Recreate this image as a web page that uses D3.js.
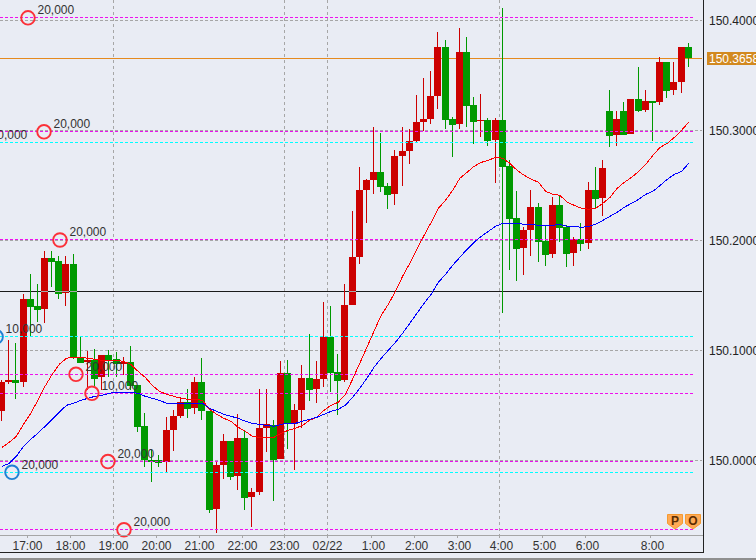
<!DOCTYPE html>
<html><head><meta charset="utf-8">
<script src="https://d3js.org/d3.v7.min.js"></script>
<style>
html,body{margin:0;padding:0;background:#e9ecf4;overflow:hidden}
svg{display:block}
text{font-family:"Liberation Sans",Arial,sans-serif;font-size:12px;fill:#333}
</style></head><body>
<svg id="c" width="756" height="560"></svg>
<script>
// all prices are given in thousandths above basePrice
const basePrice = 150;
const opens = [45.0,71.4,73.2,71.6,146.7,140.4,137.9,184.0,181.2,152.8,178.5,94.3,89.5,91.3,75.9,95.9,92.3,87.7,89.8,68.6,31.4,1.2,0.5,-0.6,27.8,40.5,53.2,47.8,71.4,45.3,-43.7,-4.0,17.8,-14.0,20.5,-33.1,-28.5,29.6,33.0,1.5,79.5,33.2,45.9,75.0,64.9,74.1,112.2,80.4,73.2,141.3,184.9,245.7,254.8,262.0,249.3,242.1,276.6,281.1,290.2,307.5,310.2,331.1,375.6,310.2,305.6,371.0,322.9,308.4,309.3,291.1,309.3,267.5,220.3,193.0,209.4,230.3,199.4,187.6,232.1,212.1,188.5,201.2,197.6,245.7,238.4,317.4,295.6,317.4,296.5,328.3,318.3,326.5,325.6,361.9,336.5,343.8,375.6];
const highs = [73.2,109.5,106.8,151.3,169.4,160.4,190.3,190.3,185.8,185.8,187.6,112.5,99.5,101.3,95.9,100.4,98.6,94.1,104.1,68.6,43.2,9.6,5.1,39.6,45.9,57.7,65.0,75.9,93.2,45.3,-1.0,24.2,17.8,42.9,27.8,-24.2,65.6,65.6,37.5,90.4,92.0,52.0,86.8,114.9,90.4,144.0,140.4,96.8,160.4,226.6,266.6,255.7,302.9,297.5,252.0,282.0,302.9,301.1,332.0,347.4,353.8,389.2,381.9,312.0,392.8,384.6,330.2,332.9,311.1,311.1,410.9,272.9,244.8,212.1,245.7,233.9,213.0,239.3,240.2,213.9,203.0,215.7,253.0,266.6,272.9,336.5,317.4,325.6,328.3,357.4,336.5,326.5,366.4,361.9,361.9,375.6,379.2];
const lows = [36.2,69.6,55.9,66.8,113.1,126.1,125.2,157.9,146.7,140.4,92.3,88.6,64.1,66.8,64.1,75.9,75.9,77.7,64.1,26.2,-5.8,-19.2,-5.5,-10.1,9.0,39.0,38.7,42.3,36.9,-47.3,-65.5,-16.1,-17.6,-26.7,-44.2,-60.0,-31.2,8.1,-36.4,1.5,10.5,-8.5,29.6,54.1,52.3,66.8,62.3,41.4,71.4,141.3,178.5,215.7,242.1,243.9,228.5,232.1,249.3,269.3,289.3,299.3,305.6,319.3,301.1,275.7,301.1,302.9,287.5,293.8,285.7,252.1,134.0,173.1,163.1,168.5,185.8,180.3,176.7,183.9,198.5,175.8,176.7,190.3,192.1,229.4,222.1,284.7,285.6,295.6,296.5,316.5,316.5,290.2,322.9,329.2,331.9,333.8,357.4];
const closes = [71.4,73.2,70.7,146.7,139.7,136.7,184.0,180.6,151.9,178.5,93.8,88.9,91.3,74.4,95.9,91.3,87.7,89.8,68.0,30.8,0.5,-0.6,-1.9,27.8,40.5,53.2,47.1,71.4,45.3,-44.9,-4.0,17.8,-14.9,20.5,-33.3,-28.5,29.6,33.2,0.5,79.5,33.2,45.9,75.0,64.1,74.1,112.2,79.5,72.3,141.3,184.9,245.7,254.8,262.0,248.4,241.2,276.6,281.1,290.2,307.5,310.2,331.1,375.6,309.3,304.7,371.0,321.9,307.5,309.3,290.2,309.3,266.6,219.4,192.1,209.4,230.3,198.5,186.7,232.1,211.2,187.6,201.2,196.7,245.7,237.5,265.7,294.7,310.2,295.6,328.3,317.4,326.5,324.7,361.9,335.6,343.8,375.6,365.8];
const redLine = [12.3,16.9,22.3,33.2,43.2,55.0,67.7,78.5,87.7,93.2,94.1,94.1,93.2,92.3,91.3,91.3,91.3,90.4,87.7,81.4,75.9,68.6,63.2,60.5,58.7,56.8,55.9,55.9,55.0,46.9,42.3,38.7,36.0,30.5,26.9,22.3,21.4,21.4,21.4,25.1,27.8,29.6,32.3,36.9,39.6,45.9,50.5,53.2,60.5,74.1,88.6,103.1,117.7,132.2,142.2,154.0,167.6,179.4,192.1,204.8,216.7,229.4,236.6,245.7,256.6,262.0,267.5,271.1,272.9,275.7,274.8,270.2,263.9,259.3,255.7,253.0,244.8,242.1,241.2,234.8,232.1,229.4,228.5,229.4,233.9,239.3,247.5,253.0,257.4,262.9,269.3,277.5,284.7,288.3,293.8,300.2,307.5];
const blueLine = [-4.9,-2.2,4.2,13.3,19.6,25.1,31.4,37.8,44.1,50.5,52.3,55.0,56.8,58.7,59.6,61.4,62.3,62.3,62.3,61.4,58.7,56.8,55.0,52.3,52.3,52.3,52.3,52.3,52.3,47.8,45.0,42.3,40.5,38.7,36.0,34.1,33.2,32.3,31.4,33.2,34.1,34.1,36.0,37.8,39.6,42.3,45.0,46.9,50.5,57.7,65.9,75.0,85.0,93.2,100.4,107.7,115.9,124.9,134.0,143.1,151.3,162.2,169.4,177.6,184.9,192.1,198.5,203.9,208.5,213.0,215.7,215.7,215.7,214.8,214.8,213.9,213.9,213.9,214.8,213.0,213.0,212.1,213.0,214.8,218.4,222.1,225.7,230.3,233.9,237.5,242.1,244.8,250.2,255.7,260.2,262.9,270.2];
const timeLabels = ["17:00","18:00","19:00","20:00","21:00","22:00","23:00","02/22","1:00","2:00","3:00","4:00","5:00","6:00","8:00"];
const timeSlots = [3.48,9.49,15.51,21.52,27.53,33.54,39.42,45.43,51.58,57.6,63.61,69.48,75.49,81.5,90.59];
const gridSlots = [15.51,39.42,45.43,69.48];
const priceTicks = [150.0,150.1,150.2,150.3,150.4];
const magentaLevels = [150.4023,150.2988,150.2006,150.0786,150.0614,149.9994,149.9374];
const cyanLevels = [150.2893,150.1127,149.9896];
const blackLevel = 150.1535;
const lastPrice = 150.3658;
const sellSlots = [3.62,5.86,8.09,10.33,12.56,14.8,17.04];
const sellPrices = [150.4023,150.2988,150.2006,150.0786,150.0614,149.9994,149.9374];
const sellAmounts = ["20,000","20,000","20,000","20,000","10,000","20,000","20,000"];
const buySlots = [-2.94,-0.84,1.38];
const buyPrices = [150.2893,150.1127,149.9896];
const buyAmounts = ["20,000","10,000","20,000"];
const badges = ["P","O"];

const svg = d3.select("#c");
const W = 756, H = 560, R = 703, B = 535;
const x = d3.scaleLinear().domain([0,96]).range([2.1,688.7]);
const y = d3.scaleLinear().domain([150,150.4]).range([460.9,20.4]);
const p = v => basePrice + v/1000;
const row = v => Math.floor(y(v)) + 0.5;
const col = s => Math.floor(x(s)) + 0.5;

svg.append("rect").attr("width",W).attr("height",H).attr("fill","#e9ecf4");

function hline(level, color, x2, dash){
  const l = svg.append("line").attr("x1",0).attr("x2",x2).attr("y1",row(level)).attr("y2",row(level))
    .attr("stroke",color).attr("stroke-width",1).attr("shape-rendering","crispEdges");
  if (dash) l.attr("stroke-dasharray",dash);
}
// vertical + horizontal grid
gridSlots.forEach(s=>{
  svg.append("line").attr("x1",col(s)).attr("x2",col(s)).attr("y1",0).attr("y2",B)
    .attr("stroke","#a6a6a6").attr("stroke-dasharray","3 3").attr("shape-rendering","crispEdges");
});
priceTicks.forEach(t=>hline(t,"#a6a6a6",R-1,"3 2"));
hline(blackLevel,"#1a1a1a",R-1);
hline(lastPrice,"#e58a1f",R-1);

// candles
const candles = svg.append("g");
opens.forEach((o,i)=>{
  const c = closes[i], up = c>=o, color = up?"#cc0000":"#009900";
  const left = Math.floor(x(i)-3.5);
  const top = Math.round(y(p(Math.max(o,c)))), bot = Math.round(y(p(Math.min(o,c))));
  const hi = Math.round(y(p(highs[i]))), lo = Math.round(y(p(lows[i])));
  candles.append("rect").attr("x",left+3).attr("width",1).attr("y",hi).attr("height",Math.max(1,lo-hi))
    .attr("fill",color).attr("shape-rendering","crispEdges");
  candles.append("rect").attr("x",left).attr("width",7).attr("y",top).attr("height",Math.max(1,bot-top))
    .attr("fill",color).attr("shape-rendering","crispEdges");
  // the black level shows through a body as a pale stripe
  const b = row(blackLevel);
  if (top < b && bot > b) {
    candles.append("rect").attr("x",left).attr("width",7).attr("y",b-.5).attr("height",1)
      .attr("fill","#a9a9a9").attr("shape-rendering","crispEdges");
  }
});

// order levels above the candles
magentaLevels.forEach(l=>hline(l,"#ee10ee",693,"3 2"));
cyanLevels.forEach(l=>hline(l,"#00ffff",693,"3 2"));

// moving averages
const line = d3.line().x((d,i)=>x(i)).y(d=>y(p(d)));
svg.append("path").attr("d",line(redLine)).attr("fill","none").attr("stroke","#ff0000").attr("stroke-width",1).attr("shape-rendering","crispEdges");
svg.append("path").attr("d",line(blueLine)).attr("fill","none").attr("stroke","#0000ff").attr("stroke-width",1).attr("shape-rendering","crispEdges");

// order markers
function marks(slots,prices,amounts,color){
  slots.forEach((s,i)=>{
    const cx=x(s), cy=y(prices[i]);
    svg.append("circle").attr("cx",cx).attr("cy",cy).attr("r",6.8).attr("fill","none")
      .attr("stroke",color).attr("stroke-width",1.9);
    svg.append("text").attr("x",cx+9.5).attr("y",cy-3.6).text(amounts[i]);
  });
}
marks(sellSlots,sellPrices,sellAmounts,"#fb3038");
marks(buySlots,buyPrices,buyAmounts,"#1f80d4");

// axes
const xAxis = svg.append("g").attr("transform",`translate(0,${B})`)
  .call(d3.axisBottom(x).tickValues(timeSlots).tickSize(3).tickPadding(3).tickFormat((d,i)=>timeLabels[i]));
xAxis.select(".domain").remove();
xAxis.selectAll(".tick line").attr("stroke","#a6a6a6").attr("shape-rendering","crispEdges");
xAxis.selectAll("text").attr("dy",null).attr("y",15.2)
  .attr("dx",(d,i)=>timeLabels[i].length<5?2:0)
  .style("font-size","12px").style("fill","#333");
svg.append("line").attr("x1",0).attr("x2",R).attr("y1",B+.5).attr("y2",B+.5).attr("stroke","#a6a6a6").attr("shape-rendering","crispEdges");

const yAxis = svg.append("g").attr("transform",`translate(${R},0)`)
  .call(d3.axisRight(y).tickValues(priceTicks).tickSize(0).tickPadding(6).tickFormat(d3.format(".4f")));
yAxis.select(".domain").remove();
yAxis.selectAll("text").attr("dy",null).attr("y",4).style("font-size","12px").style("fill","#222");

// frame
svg.append("line").attr("x1",R+.5).attr("x2",R+.5).attr("y1",0).attr("y2",552).attr("stroke","#222").attr("shape-rendering","crispEdges");
svg.append("line").attr("x1",0).attr("x2",R+1).attr("y1",552.5).attr("y2",552.5).attr("stroke","#222").attr("shape-rendering","crispEdges");
svg.append("rect").attr("x",0).attr("y",558).attr("width",W).attr("height",2).attr("fill","#8f8f8f");

// last price tag
svg.append("rect").attr("x",707).attr("y",52).attr("width",49).attr("height",13).attr("fill","#d2891f");
svg.append("text").attr("x",709).attr("y",y(lastPrice)+5).text(d3.format(".4f")(lastPrice)).style("fill","#fff");

// P / O badges
badges.forEach((b,i)=>{
  const l = 667 + i*18;
  svg.append("path").attr("d",`M${l+.5},514.5H${l+15.5}V523.5L${l+8},529L${l+.5},523.5Z`)
    .attr("fill","#ffaa55").attr("stroke","#f59a30");
  svg.append("text").attr("x",l+8).attr("y",525).attr("text-anchor","middle").text(b)
    .style("font-weight","bold").style("font-size","12px").style("fill","#5a2c00");
});
</script>
</body></html>
